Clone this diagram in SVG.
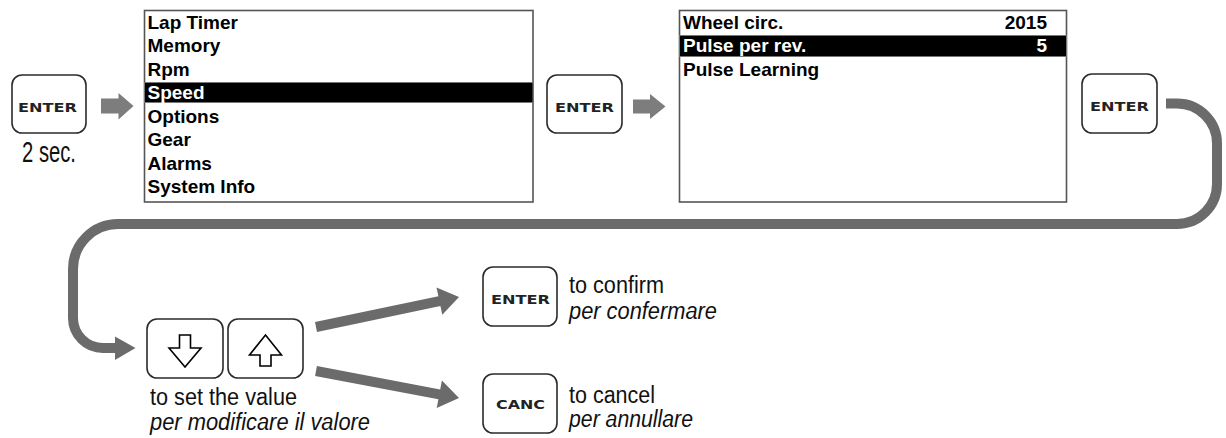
<svg xmlns="http://www.w3.org/2000/svg" width="1226" height="438" viewBox="0 0 1226 438">
<style>
.btn{fill:#fff;stroke:#2b2b2b;stroke-width:1.6}
.key{font-family:"DejaVu Sans",sans-serif;font-weight:bold;font-size:11.5px;fill:#222}
.frame{fill:#fff;stroke:#555;stroke-width:1.6}
.band{fill:#000;stroke:#777;stroke-width:1}
.m{font-family:"Liberation Sans",Arial,sans-serif;font-weight:bold;font-size:19px;fill:#000}
.mw{font-family:"Liberation Sans",Arial,sans-serif;font-weight:bold;font-size:19px;fill:#fff}
.t{font-family:"Liberation Sans",Arial,sans-serif;font-size:23px;fill:#111}
.ti{font-family:"Liberation Sans",Arial,sans-serif;font-size:23px;font-style:italic;fill:#111}
.arr{fill:#7d7d7d}
.big{fill:#6b6b6b}
.flow{fill:none;stroke:#6b6b6b;stroke-width:10}
.icon{fill:#fff;stroke:#000;stroke-width:1.6;stroke-linejoin:miter}
</style>

<g id="enter1">
<rect class="btn" x="12" y="75" width="74" height="58" rx="10"/>
<text class="key" x="18" y="112" textLength="59" lengthAdjust="spacingAndGlyphs">ENTER</text>
<text class="t" x="22" y="162" style="font-size:29px" textLength="54" lengthAdjust="spacingAndGlyphs">2 sec.</text>
</g>

<g id="menu1">
<rect class="frame" x="144.5" y="10.5" width="388.5" height="191.5"/>
<rect class="band" x="144.5" y="82.5" width="388.5" height="20"/>
<text class="m" x="147.5" y="28.5">Lap Timer</text>
<text class="m" x="147.5" y="52">Memory</text>
<text class="m" x="147.5" y="75.5">Rpm</text>
<text class="mw" x="147.5" y="99">Speed</text>
<text class="m" x="147.5" y="122.5">Options</text>
<text class="m" x="147.5" y="146">Gear</text>
<text class="m" x="147.5" y="169.5">Alarms</text>
<text class="m" x="147.5" y="193">System Info</text>
</g>

<g id="enter2">
<rect class="btn" x="547" y="75" width="75" height="58" rx="10"/>
<text class="key" x="555" y="112" textLength="59" lengthAdjust="spacingAndGlyphs">ENTER</text>
</g>

<g id="menu2">
<rect class="frame" x="679.5" y="10.5" width="387" height="191.5"/>
<rect class="band" x="679.5" y="35.5" width="387" height="21"/>
<text class="m" x="683" y="28.5">Wheel circ.</text>
<text class="m" x="1047" y="28.5" text-anchor="end">2015</text>
<text class="mw" x="683" y="52">Pulse per rev.</text>
<text class="mw" x="1047" y="52" text-anchor="end">5</text>
<text class="m" x="683" y="75.5">Pulse Learning</text>
</g>

<g id="enter3">
<rect class="btn" x="1082" y="74" width="75" height="59" rx="10"/>
<text class="key" x="1090" y="111" textLength="59" lengthAdjust="spacingAndGlyphs">ENTER</text>
</g>

<g id="updown">
<rect class="btn" x="147" y="319" width="76" height="59" rx="10"/>
<polygon class="icon" points="179.5,335 190.5,335 190.5,348 201,348 185,367 169,348 179.5,348"/>
<rect class="btn" x="228" y="319" width="75" height="59" rx="10"/>
<polygon class="icon" points="265.5,335 281.5,355 271,355 271,366 260,366 260,355 249.5,355"/>
<text class="t" x="150" y="405" textLength="147" lengthAdjust="spacingAndGlyphs">to set the value</text>
<text class="ti" x="150" y="430" textLength="220" lengthAdjust="spacingAndGlyphs">per modificare il valore</text>
</g>

<g id="enter4">
<rect class="btn" x="483" y="267" width="74" height="59" rx="10"/>
<text class="key" x="491" y="304" textLength="59" lengthAdjust="spacingAndGlyphs">ENTER</text>
<text class="t" x="569" y="293" textLength="95" lengthAdjust="spacingAndGlyphs">to confirm</text>
<text class="ti" x="569" y="319" textLength="148" lengthAdjust="spacingAndGlyphs">per confermare</text>
</g>

<g id="canc">
<rect class="btn" x="483" y="374" width="74" height="59" rx="10"/>
<text class="key" x="496" y="409" textLength="49" lengthAdjust="spacingAndGlyphs">CANC</text>
<text class="t" x="569" y="403" textLength="86" lengthAdjust="spacingAndGlyphs">to cancel</text>
<text class="ti" x="569" y="427" textLength="124" lengthAdjust="spacingAndGlyphs">per annullare</text>
</g>

<g id="connectors">
<polygon class="arr" points="101,98.5 118.5,98.5 118.5,93 133.5,106 118.5,119.5 118.5,113.5 101,113.5"/>
<polygon class="arr" points="633,99.5 650,99.5 650,94 665.5,106.5 650,119 650,113.5 633,113.5"/>
<path class="flow" d="M1166,103.5 H1177 A40,40 0 0 1 1217,143.5 V184 A40,40 0 0 1 1177,224 H118 A45,45 0 0 0 73,269 V318 A30,30 0 0 0 103,348 H118"/>
<polygon class="big" points="115,336.5 135.5,348 115,360"/>
<polygon class="big" points="315,322.1 438.4,296.2 436.5,287.4 459,297 442.3,314.8 440.4,306 317,331.9"/>
<polygon class="big" points="316.9,366.1 440.2,389.4 441.9,380.5 459,398 436.7,408.1 438.4,399.2 315.1,375.9"/>
</g>
</svg>
